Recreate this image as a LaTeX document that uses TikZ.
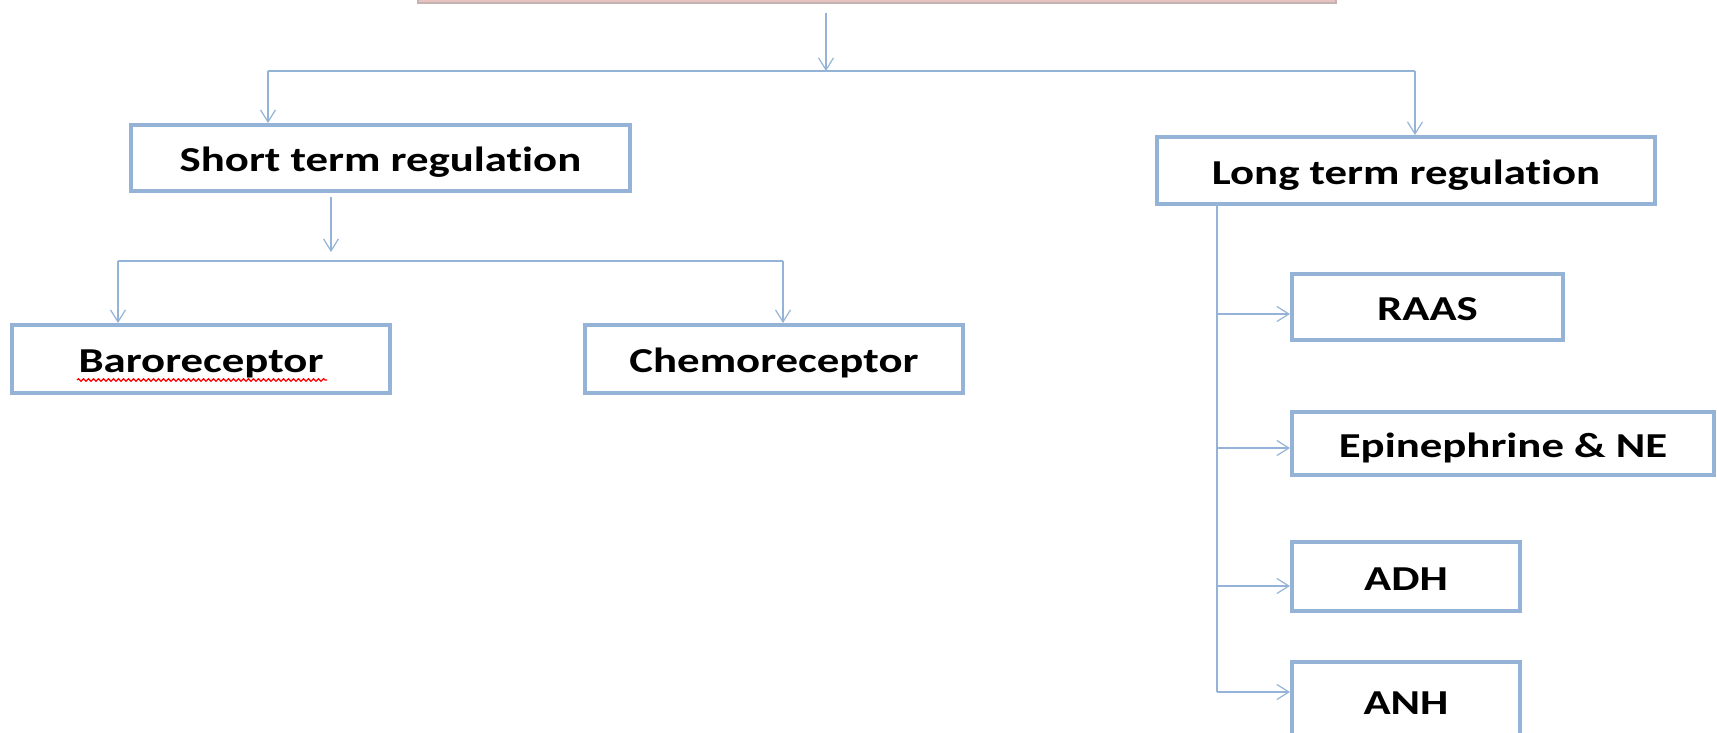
\documentclass[tikz,border=0pt]{standalone}
\usepackage{fontspec}
\setmainfont{Carlito}[FakeStretch=1.28, Ligatures=NoCommon]
\usetikzlibrary{arrows.meta,calc,decorations.pathmorphing}
\definecolor{boxblue}{HTML}{95B3D7}
\definecolor{linkblue}{HTML}{95B3D7}
\definecolor{headpink}{HTML}{E6C3C0}
\definecolor{headedge}{HTML}{C4B3B1}
% keep "t" and "i" as separate glyphs
\newcommand{\regword}{regulat\kern0pt ion}
\tikzset{
  box/.style={draw=boxblue, line width=4pt, fill=white, inner sep=0pt,
    text height=31pt, text depth=4pt,
    font=\fontsize{35}{42}\selectfont\bfseries, text=black},
  link/.style={draw=linkblue, line width=1.5pt},
  arr/.style={link, -{Straight Barb[length=12pt,width=15pt,line width=1.2pt]}},
}
\begin{document}
\begin{tikzpicture}[x=1pt,y=-1pt]
\useasboundingbox (0,0) rectangle (1717,732);

% title box (only its lower edge is in view)
\node[draw=headedge, fill=headpink, line width=1.5pt, inner sep=0pt,
      minimum width=918pt, minimum height=60pt] (head) at (877,-27) {};

% boxes
\node[box, minimum width=499pt, minimum height=66pt] (short) at (380.5,158) {Short term \regword};
\node[box, minimum width=498pt, minimum height=67pt] (long)  at (1406,170.5) {Long term \regword};
\node[box, minimum width=378pt, minimum height=68pt] (baro)  at (201,359) {Baroreceptor};
\node[box, minimum width=378pt, minimum height=68pt] (chemo) at (774,359) {Chemoreceptor};
\node[box, minimum width=271pt, minimum height=66pt] (raas)  at (1427.5,307) {RAAS};
\node[box, minimum width=422pt, minimum height=63pt] (epi)   at (1503,443.5) {Epinephrine \& NE};
\node[box, minimum width=228pt, minimum height=69pt] (adh)   at (1406,576.5) {ADH};
\node[box, minimum width=228pt, minimum height=78pt] (anh)   at (1406,701) {ANH};

% spell-check underline
\draw[red, line width=1.2pt, decorate,
      decoration={snake, amplitude=1.3pt, segment length=5pt}] (77,380) -- (327,380);

% top level split
\coordinate (hub)  at (826,71);
\coordinate (busL) at (268,71);
\coordinate (busR) at (1415,71);
\draw[arr, shorten <=9pt] (head.south -| hub) -- (hub);
\draw[link] (busL) -- (busR);
\draw[arr] (busL) -- (busL |- short.north);
\draw[arr] (busR) -- (busR |- long.north);

% short term split
\coordinate (sdrop) at (331,261);
\coordinate (sbusL) at (118,261);
\coordinate (sbusR) at (783,261);
\draw[arr, shorten <=4pt, shorten >=9pt] (short.south -| sdrop) -- (sdrop);
\draw[link] (sbusL) -- (sbusR);
\draw[arr] (sbusL) -- (sbusL |- baro.north);
\draw[arr] (sbusR) -- (sbusR |- chemo.north);

% long term spine
\coordinate (b1) at (1217,314);
\coordinate (b2) at (1217,448);
\coordinate (b3) at (1217,586);
\coordinate (b4) at (1217,692);
\draw[link] (long.south -| b4) -- (b4);
\draw[arr] (b1) -- (b1 -| raas.west);
\draw[arr] (b2) -- (b2 -| epi.west);
\draw[arr] (b3) -- (b3 -| adh.west);
\draw[arr] (b4) -- (b4 -| anh.west);
\end{tikzpicture}
\end{document}
